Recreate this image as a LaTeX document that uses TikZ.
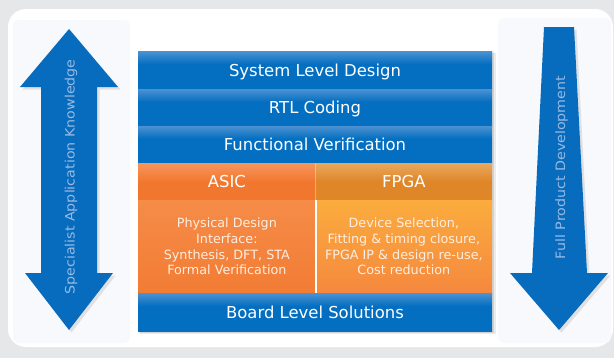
\documentclass[tikz,border=0pt]{standalone}
\usepackage{fontspec}
\usepackage{graphicx}
\setmainfont{DejaVu Sans}
\usetikzlibrary{shadows}
\definecolor{bgGrey}{RGB}{230,231,233}
\definecolor{sideGrey}{RGB}{248,249,252}
\definecolor{blueD}{RGB}{4,111,192}
\definecolor{blueL}{RGB}{76,146,210}
\definecolor{asicL}{RGB}{246,150,92}
\definecolor{asicD}{RGB}{242,119,46}
\definecolor{asicBL}{RGB}{245,140,72}
\definecolor{asicBD}{RGB}{242,124,52}
\definecolor{fpgaL}{RGB}{234,168,95}
\definecolor{fpgaD}{RGB}{222,134,40}
\definecolor{fpgaBL}{RGB}{251,172,62}
\definecolor{fpgaBD}{RGB}{245,136,62}
\definecolor{arrowBlue}{RGB}{8,108,190}
\definecolor{arrowText}{RGB}{150,186,226}
\definecolor{bodyText}{RGB}{255,238,224}
\pgfdeclareverticalshading{blueRow}{100bp}{color(0bp)=(blueD); color(25bp)=(blueD); color(58bp)=(blueD); color(75bp)=(blueL); color(100bp)=(blueL)}
\pgfdeclareverticalshading{asicHead}{100bp}{color(0bp)=(asicD); color(25bp)=(asicD); color(50bp)=(asicD); color(75bp)=(asicL); color(100bp)=(asicL)}
\pgfdeclareverticalshading{fpgaHead}{100bp}{color(0bp)=(fpgaD); color(25bp)=(fpgaD); color(50bp)=(fpgaD); color(75bp)=(fpgaL); color(100bp)=(fpgaL)}
\pgfdeclareverticalshading{asicBody}{100bp}{color(0bp)=(asicBD); color(25bp)=(asicBD); color(75bp)=(asicBL); color(100bp)=(asicBL)}
\pgfdeclareverticalshading{fpgaBody}{100bp}{color(0bp)=(fpgaBD); color(25bp)=(fpgaBD); color(75bp)=(fpgaBL); color(100bp)=(fpgaBL)}
\tikzset{
  rowbox/.style={inner sep=0pt, minimum width=354bp, minimum height=#1,
    text height=12bp, text depth=0bp, text=white,
    font=\fontsize{16.5}{20}\selectfont},
  bluerow/.style={rowbox=#1, shading=blueRow},
  headbox/.style={inner sep=0pt, minimum height=37bp, text height=12bp, text depth=0bp,
    text=white, font=\fontsize{16.5}{20}\selectfont},
  bodybox/.style={inner sep=0pt, minimum height=93bp, text=bodyText, align=center,
    font=\fontsize{12.8}{15.7}\selectfont},
  arrowshape/.style={fill=arrowBlue, drop shadow={shadow xshift=2.5bp, shadow yshift=-2.5bp, opacity=0.2}},
  arrtxt/.style={inner sep=0pt, text=arrowText, font=\fontsize{13}{15}\selectfont, rotate=90, anchor=base}
}
\begin{document}
\begin{tikzpicture}[x=1bp,y=-1bp]
\useasboundingbox (0,0) rectangle (614,358);
\fill[bgGrey] (0,0) rectangle (614,358);
\fill[white, rounded corners=18bp] (8,9) rectangle (613,347);
\fill[sideGrey, rounded corners=6bp] (13,20) rectangle (130,343);
\fill[sideGrey, rounded corners=6bp] (498,18) rectangle (611,343);
% stack shadow
\fill[black, opacity=0.08] (140,53) rectangle (496,334);
\fill[black, opacity=0.10] (139,52) rectangle (494,332.5);
% left double arrow
\path[arrowshape] (69,29) -- (118,87) -- (97,87) -- (97,273) -- (113,273) -- (69,330)
  -- (25,273) -- (41,273) -- (41,87) -- (20,87) -- cycle;
% right tapered down arrow
\path[arrowshape] (544,27) -- (574,27) -- (587,273) -- (608,273) -- (559,330)
  -- (510,273) -- (532,273) -- cycle;
\node[arrtxt] (leftlabel) at (74.5,177) {\scalebox{1.1}[1]{Specialist Application Knowledge}};
\node[arrtxt] (rightlabel) at (565,167.5) {\scalebox{1.1}[1]{Full Product Development}};
% stack
\node[bluerow=38bp] (sld) at (315,70) {System Level Design};
\node[bluerow=37bp] (rtl) at (315,107.5) {RTL Coding};
\node[bluerow=37bp] (fv) at (315,144.5) {Functional Verification};
\node[headbox, minimum width=177.7bp, shading=asicHead] (asic) at (226.85,181.5) {ASIC};
\node[headbox, minimum width=176.3bp, shading=fpgaHead] (fpga) at (403.85,181.5) {FPGA};
\node[bodybox, minimum width=177.7bp, shading=asicBody] (asicbody) at (226.85,246.5)
  {Physical Design\\Interface:\\Synthesis, DFT, STA\\Formal Verification};
\node[bodybox, minimum width=176.3bp, shading=fpgaBody] (fpgabody) at (403.85,246.5)
  {Device Selection,\\Fitting \& timing closure,\\FPGA IP \& design re-use,\\Cost reduction};
\node[bluerow=38bp] (board) at (315,312) {Board Level Solutions};
\draw[white, opacity=0.35, line width=1bp] (asic.north east) -- (asic.south east);
\draw[white, line width=1.2bp] (asicbody.north east) -- (asicbody.south east);
\end{tikzpicture}
\end{document}
